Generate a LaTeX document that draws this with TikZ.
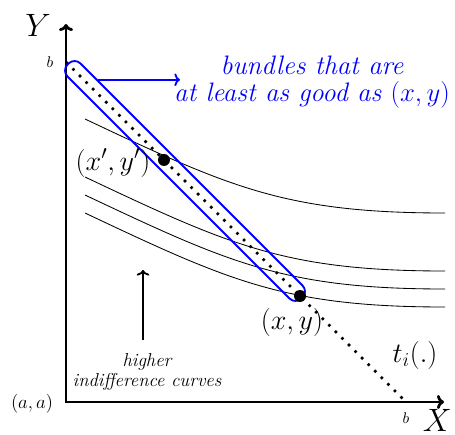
\RequirePackage{fix-cm}
\documentclass[tikz,border=0pt]{standalone}
\usepackage{amsmath,amssymb}
\usepackage{xcolor}
\usepackage{tikz}
\usetikzlibrary{positioning,arrows.meta,calc}

\begin{document}
\begin{tikzpicture}[
        axis/.style={line width=2pt,{To[length=5pt,width=10pt]}-{To[length=5pt,width=10pt]}},
        icurve/.style={black,semithick},
        budget/.style={line width=1.8pt,dash pattern=on 1.8pt off 4.8pt},
        better/.style={draw=blue,line width=1.3pt,rounded corners=6pt},
        dot/.style={circle,fill=black,inner sep=0pt,minimum size=0.3cm},
        big/.style={font=\fontsize{20}{20}\selectfont},
        huge/.style={font=\fontsize{23}{23}\selectfont},
        mid/.style={font=\fontsize{13.4}{14.5}\selectfont},
        tiny/.style={font=\fontsize{11}{12}\selectfont}]
        \useasboundingbox (-1.65,-0.8) rectangle (9.725,10.05);
        \coordinate (O) at (0,0);
        \coordinate (ytop) at (0,9.45);
        \coordinate (xend) at (9.45,0);
        \coordinate (B1) at (0,8.5);
        \coordinate (B2) at (8.5,0);
        \foreach \s in {7.075,5.625,5.175,4.725}
          \draw[icurve] (0.475,\s) .. controls +(3.6,-1.7) and +(-4,0) .. (9.475,\s-2.35);
        \draw[axis] (ytop) -- (O) -- (xend);
        \draw[budget] (B1) -- (B2);
        \node[better,rotate=-45,minimum width=8.27cm,minimum height=0.46cm] (set) at (2.975,5.525) {};
        \node[dot] (p1) at (2.45,6.05) {};
        \node[dot] (p2) at (5.85,2.65) {};
        \node[huge] (ylab) at (-0.7,9.425) {$Y$};
        \node[huge,inner sep=1pt] (xlab) at (9.28,-0.45) {$X$};
        \node[tiny] (by) at (-0.4,8.5) {$b$};
        \node[tiny] (bx) at (8.5,-0.4) {$b$};
        \node[mid] (orig) at (-0.85,-0.05) {$(a,a)$};
        \node[big] (p1lab) at (1.175,5.975) {$(x',y')$};
        \node[big] (p2lab) at (5.65,2.0) {$(x,y)$};
        \node[big] (tlab) at (8.725,1.175) {$t_i(.)$};
        \node[blue,align=center,font=\fontsize{19}{19.2}\selectfont\itshape] (bundles) at (6.15,8.0)
          {bundles that are\\at least as good as $(x,y)$};
        \coordinate (a1) at ($(set.north west)!0.1!(set.north east)$);
        \coordinate (a2) at (2.85,8.03);
        \draw[blue,line width=1.3pt,-{To[length=4pt,width=9pt]}] (a1) -- (a1 -| a2);
        \node[align=center,font=\fontsize{13.3}{14.3}\selectfont\itshape] (higher) at (2.025,0.75)
          {higher\\indifference curves};
        \coordinate (hbase) at (1.925,1.55);
        \coordinate (htip) at (1.925,3.3);
        \draw[line width=1.3pt,-{To[length=4pt,width=9pt]}] (hbase) -- (htip);
      \end{tikzpicture}
\end{document}
